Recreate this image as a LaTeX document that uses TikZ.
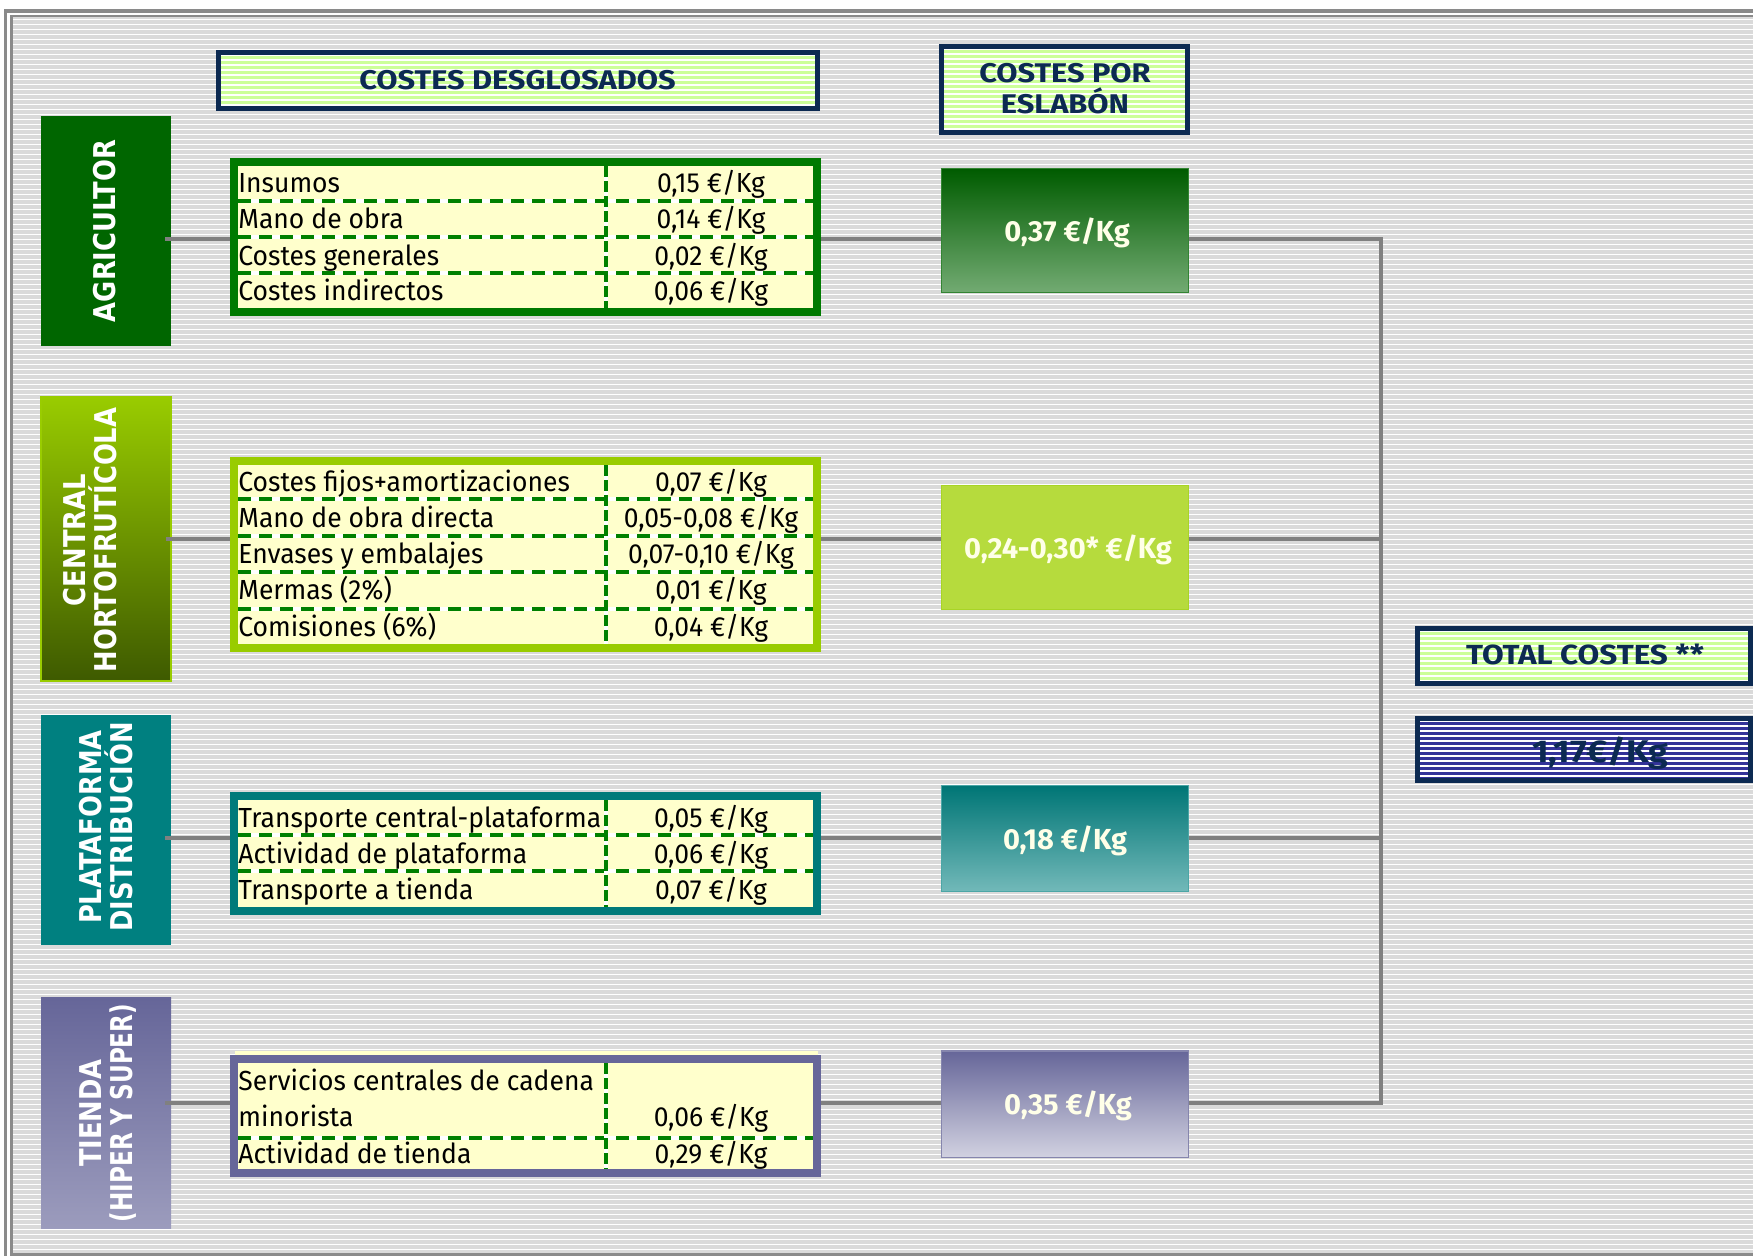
\documentclass[tikz,border=0pt]{standalone}
\usepackage{fontspec}
\setmainfont{Fira Sans}
\newfontfamily\cellfont[FakeStretch=0.96]{Fira Sans}
\newfontfamily\headfont[FakeStretch=1.14]{Fira Sans}
\newfontfamily\sidefont[FakeStretch=0.86]{DejaVu Sans}
\newfontfamily\sidefontnarrow[FakeStretch=0.77]{DejaVu Sans}
\usetikzlibrary{calc}

\definecolor{bggray}{HTML}{DADADA}
\definecolor{framegray}{HTML}{8A8A8A}
\definecolor{linkgray}{HTML}{808080}
\definecolor{navy}{HTML}{0C2A52}
\definecolor{hdrgreen}{HTML}{CCFF99}
\definecolor{cellyellow}{HTML}{FFFFCC}
\definecolor{dashgreen}{HTML}{008000}
\definecolor{agrgreen}{HTML}{006600}
\definecolor{agrborder}{HTML}{007A00}
\definecolor{limegreen}{HTML}{99CC00}
\definecolor{olivegreen}{HTML}{3E5A00}
\definecolor{platteal}{HTML}{008080}
\definecolor{tabteal}{HTML}{007A7A}
\definecolor{shoppurple}{HTML}{666699}
\definecolor{totalblue}{HTML}{333399}
\definecolor{valwhite}{HTML}{FFFFE8}

\newcommand\cellrow[4]{%
  \node[celltext, anchor=base west] (#1a) at (238,#2) {#3};
  \node[celltext, anchor=base] (#1b) at (711,#2) {#4};}
\newcommand\rowsep[1]{%
  \draw[sepwhite] (238,#1) -- (813,#1);
  \draw[sepdash] (238,#1) -- (813,#1);}
\newcommand\coldiv[2]{%
  \draw[divwhite] (606,#1) -- (606,#2);
  \draw[divdash] (606,#1) -- (606,#2);}

\tikzset{
  stripes/.style={path picture={
    \foreach \k [evaluate=\k as \yy using 2.5*\k-1.2] in {1,...,#1}{
      \draw[white,line width=0.8pt]
        ([yshift=-\yy pt]path picture bounding box.north west) --
        ([yshift=-\yy pt]path picture bounding box.north east);}}},
  hdrbox/.style={draw=navy, line width=2.5pt, fill=hdrgreen, stripes=20, inner sep=0pt},
  hdrtext/.style={inner sep=0pt, text=navy, font=\headfont\bfseries\fontsize{13.5}{15}\selectfont},
  sidebox/.style={inner sep=0pt, minimum width=65pt, minimum height=115pt},
  sidetext/.style={inner sep=0pt, rotate=90, align=center, text=white,
    font=\sidefont\bfseries\fontsize{15}{15.5}\selectfont},
  tabbox/.style={fill=cellyellow, line width=4pt, inner sep=0pt, minimum width=291.5pt},
  celltext/.style={inner sep=0pt, text=black, font=\cellfont\fontsize{13.8}{16}\selectfont},
  sepwhite/.style={draw=white, line width=2pt},
  sepdash/.style={draw=dashgreen, line width=2pt, dash pattern=on 6.5pt off 4pt},
  divwhite/.style={draw=white, line width=1.6pt},
  divdash/.style={draw=dashgreen, line width=1.6pt, dash pattern=on 5.5pt off 2pt},
  valbox/.style={inner sep=0pt, minimum width=123.5pt, line width=0.5pt},
  valtext/.style={inner sep=0pt, text=valwhite, font=\bfseries\fontsize{14.5}{16}\selectfont},
  link/.style={draw=linkgray, line width=2pt},
}

\begin{document}
\begin{tikzpicture}[x=0.5pt, y=-0.5pt]
\useasboundingbox (0,0) rectangle (1753,1256);
\clip (0,0) rectangle (1753,1256);

% striped background and double frame
\fill[white] (0,0) rectangle (1753,1256);
\fill[bggray] (12,16) rectangle (1753,1255);
\foreach \k [evaluate=\k as \yy using 19.5+5*\k] in {0,...,247}{
  \draw[white, line width=0.8pt] (12,\yy) -- (1753,\yy);}
\draw[framegray, line width=1.6pt] (5.7,1256) -- (5.7,11) -- (1753,11);
\draw[framegray, line width=1.4pt] (1753,16) -- (11.7,16) -- (11.7,1254.3) -- (1753,1254.3);

% column headers
\node[hdrbox, minimum width=299.5pt, minimum height=28pt] (hdrA) at (518,80.5) {};
\node[hdrtext, anchor=base] (hdrAt) at (517.5,90) {COSTES DESGLOSADOS};
\node[hdrbox, minimum width=123pt, minimum height=43pt] (hdrB) at (1064.5,89.5) {};
\node[hdrtext, anchor=base] (hdrBt1) at (1065,82.7) {COSTES POR};
\node[hdrtext, anchor=base] (hdrBt2) at (1065,113.3) {ESLABÓN};

% links of the chain
\node[sidebox, fill=agrgreen] (agr) at (106,231) {};
\node[sidetext] (agrT) at (105,231) {AGRICULTOR};
\node[sidebox, minimum height=142pt, draw=limegreen, line width=0.75pt,
      top color=limegreen, middle color=olivegreen!80!limegreen, bottom color=olivegreen] (cen) at (106,539) {};
\node[sidetext] (cenT) at (90,540) {CENTRAL\\HORTOFRUTÍCOLA};
\node[sidebox, fill=platteal] (pla) at (106,830) {};
\node[sidetext] (plaT) at (106.5,827) {PLATAFORMA\\DISTRIBUCIÓN};
\node[sidebox, top color=shoppurple, bottom color=shoppurple!65!white] (tie) at (106,1113) {};
\node[sidetext] (tieT) at (108,1113) {TIENDA\\{\sidefontnarrow(HIPER Y SUPER)}};

% itemised cost tables
\node[tabbox, draw=agrborder, minimum height=75pt] (t1) at (525.5,237) {};
\rowsep{201} \rowsep{237.3} \rowsep{273.3}
\coldiv{166}{308}
\cellrow{t1r1}{193}{Insumos}{0,15 €/Kg}
\cellrow{t1r2}{229}{Mano de obra}{0,14 €/Kg}
\cellrow{t1r3}{265.5}{Costes generales}{0,02 €/Kg}
\cellrow{t1r4}{300.5}{Costes indirectos}{0,06 €/Kg}

\node[tabbox, draw=limegreen, minimum height=93.5pt] (t2) at (525.5,554.5) {};
\rowsep{499.3} \rowsep{535.7} \rowsep{572.3} \rowsep{609}
\coldiv{465}{644}
\cellrow{t2r1}{491.5}{Costes fijos+amortizaciones}{0,07 €/Kg}
\cellrow{t2r2}{528}{Mano de obra directa}{0,05-0,08 €/Kg}
\cellrow{t2r3}{564}{Envases y embalajes}{0,07-0,10 €/Kg}
\cellrow{t2r4}{600}{Mermas (2\%)}{0,01 €/Kg}
\cellrow{t2r5}{637}{Comisiones (6\%)}{0,04 €/Kg}

\node[tabbox, draw=tabteal, minimum height=57.5pt] (t3) at (525.5,853.5) {};
\rowsep{835.1} \rowsep{871.3}
\coldiv{800}{907}
\cellrow{t3r1}{827.5}{Transporte central-plataforma}{0,05 €/Kg}
\cellrow{t3r2}{864}{Actividad de plataforma}{0,06 €/Kg}
\cellrow{t3r3}{900}{Transporte a tienda}{0,07 €/Kg}

\fill[cellyellow] (235,1051) rectangle (818,1056);
\node[tabbox, draw=shoppurple, minimum height=57pt] (t4) at (525.5,1116) {};
\rowsep{1138}
\coldiv{1063}{1169}
\node[celltext, anchor=base west] (t4r0a) at (238,1090) {Servicios centrales de cadena};
\cellrow{t4r1}{1126.5}{minorista}{0,06 €/Kg}
\cellrow{t4r2}{1163}{Actividad de tienda}{0,29 €/Kg}

% cost per link
\node[valbox, minimum height=62pt, draw=agrgreen!80!white, top color=agrgreen!90!black, bottom color=agrgreen!55!white] (v1) at (1064.5,231) {};
\node[valtext, anchor=base] (v1t) at (1067,242) {0,37 €/Kg};
\node[valbox, minimum height=62pt, draw=limegreen!85!white, fill=limegreen!75!white!95!yellow] (v2) at (1064.5,548) {};
\node[valtext, anchor=base] (v2t) at (1068,559) {0,24-0,30* €/Kg};
\node[valbox, minimum height=53pt, draw=platteal!70!white, top color=platteal!92!black, bottom color=platteal!55!white] (v3) at (1064.5,839) {};
\node[valtext, anchor=base] (v3t) at (1065,850) {0,18 €/Kg};
\node[valbox, minimum height=53pt, draw=shoppurple!80!white, top color=shoppurple, bottom color=shoppurple!30!white] (v4) at (1064.5,1104) {};
\node[valtext, anchor=base] (v4t) at (1068,1114) {0,35 €/Kg};

% total
\node[hdrbox, minimum width=166.5pt, minimum height=27.5pt] (tot) at (1584,656) {};
\node[hdrtext, font=\headfont\bfseries\fontsize{13.8}{15}\selectfont, anchor=base] (tott) at (1585,665) {TOTAL COSTES **};
\node[hdrbox, fill=totalblue, minimum width=166.5pt, minimum height=31pt] (sum) at (1584,749.5) {};
\node[hdrtext, font=\headfont\bfseries\fontsize{15.7}{17}\selectfont, anchor=base] (sumt) at (1600,763) {1,17€/Kg};

% connectors
\coordinate (r1) at (0,239);
\coordinate (r2) at (0,539);
\coordinate (r3) at (0,838);
\coordinate (r4) at (0,1103);
\coordinate (bus) at (1381,0);
\draw[link] ($(agr.east |- r1)+(-6,0)$) -- (t1.west |- r1);
\draw[link] ($(cen.east |- r2)+(-6,0)$) -- (t2.west |- r2);
\draw[link] ($(pla.east |- r3)+(-6,0)$) -- (t3.west |- r3);
\draw[link] ($(tie.east |- r4)+(-6,0)$) -- (t4.west |- r4);
\draw[link] (t1.east |- r1) -- (v1.west |- r1);
\draw[link] (t2.east |- r2) -- (v2.west |- r2);
\draw[link] (t3.east |- r3) -- (v3.west |- r3);
\draw[link] (t4.east |- r4) -- (v4.west |- r4);
\draw[link] (v1.east |- r1) -- (bus |- r1) -- (bus |- r4) -- (v4.east |- r4);
\draw[link] (v2.east |- r2) -- (bus |- r2);
\draw[link] (v3.east |- r3) -- (bus |- r3);
\end{tikzpicture}
\end{document}
